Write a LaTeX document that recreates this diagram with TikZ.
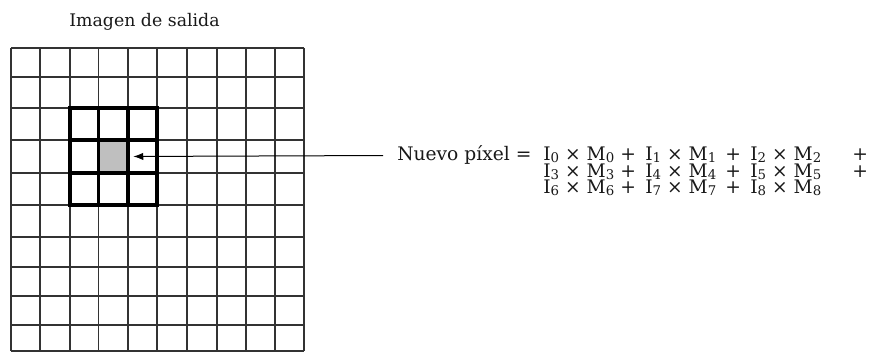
\documentclass[tikz,border=0pt]{standalone}
\usepackage{fontspec}
\setmainfont{DejaVu Serif}
\usetikzlibrary{arrows.meta}

% one product term of the sum, and the boxes that line the terms up
\newcommand{\idx}[1]{\raisebox{-0.1em}{\fontsize{10}{10}\selectfont #1}}
\newcommand{\prodterm}[1]{I\idx{#1} × M\idx{#1}}
\newcommand{\termbox}[2]{\makebox[#1][l]{\prodterm{#2}}}
\newcommand{\plusbox}{\makebox[25.5pt]{+}}

\begin{document}
\begin{tikzpicture}[
    x=0.75pt, y=-0.75pt,
    thin line/.style={line width=1.2pt, draw=black!80},
    mask line/.style={line width=2.6pt, draw=black, line cap=rect},
    label text/.style={inner sep=0pt, text=black!90, font=\fontsize{14}{16}\selectfont}
]
    \useasboundingbox (0,0) rectangle (870,352);

    % Output image: the new pixel, then the grid over it
    \node[rectangle, fill=black!25, inner sep=0pt, minimum width=22.1pt, minimum height=24.75pt] (pixel) at (113.25,156.5) {};
    \foreach \x in {11,40,70,98.5,128,157,187,217,246,275,304}
        \draw[thin line] (\x,48) -- (\x,351);
    \foreach \y in {48,77,108,140,173,205,237,267,296,325,351}
        \draw[thin line] (11,\y) -- (304,\y);

    % 3x3 neighbourhood
    \foreach \x in {70,98.5,128,157}
        \draw[mask line] (\x,108) -- (\x,205);
    \foreach \y in {108,140,173,205}
        \draw[mask line] (70,\y) -- (157,\y);

    \node[label text, font=\fontsize{13}{15}\selectfont] (title) at (144.5,22) {Imagen de salida};

    % Formula, one node per line
    \node[label text, anchor=base west] (lbl) at (397,161) {Nuevo píxel =};
    \node[label text, anchor=base west] (line1) at (543,161) {\termbox{51pt}{0}\plusbox\termbox{53.25pt}{1}\plusbox\termbox{69.75pt}{2}\plusbox};
    \node[label text, anchor=base west] (line2) at (543,177.5) {\termbox{51pt}{3}\plusbox\termbox{53.25pt}{4}\plusbox\termbox{69.75pt}{5}\plusbox};
    \node[label text, anchor=base west] (line3) at (543,194) {\termbox{51pt}{6}\plusbox\termbox{53.25pt}{7}\plusbox\termbox{69.75pt}{8}};

    \draw[-{Latex[length=7.5pt,width=5.5pt]}, line width=0.75pt, shorten >=3.75pt, shorten <=10.5pt] (lbl.west) -- (pixel.east);

\end{tikzpicture}
\end{document}
